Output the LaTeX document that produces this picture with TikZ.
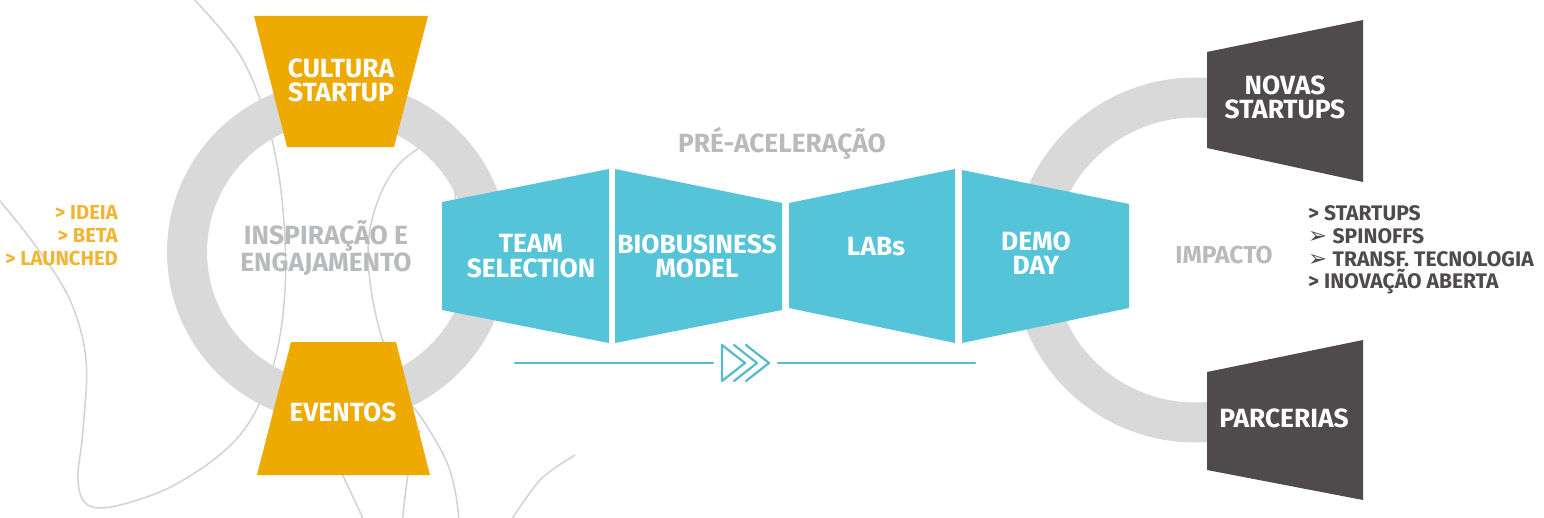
\documentclass[tikz,border=0pt]{standalone}
\usepackage{fontspec}
\setmainfont{Fira Sans}
\newfontfamily\symfont{DejaVu Sans}

\definecolor{ringgray}{HTML}{D9D9D9}
\definecolor{linegray}{HTML}{D2D2D2}
\definecolor{labelgray}{HTML}{B8BABC}
\definecolor{boxorange}{HTML}{EEAA00}
\definecolor{listorange}{HTML}{F2B533}
\definecolor{boxblue}{HTML}{55C4D9}
\definecolor{flowblue}{HTML}{5AB9CB}
\definecolor{boxdark}{HTML}{4F4A4B}

\tikzset{
  thinline/.style={draw=linegray, line width=0.03cm},
  ring/.style={draw=ringgray, line width=0.8cm},
  orangebox/.style={fill=boxorange},
  bluebox/.style={fill=boxblue},
  darkbox/.style={fill=boxdark},
  boxtext/.style={text=white, align=center, font=\bfseries\fontsize{15}{13.8}\selectfont},
  graytext/.style={text=labelgray, align=center, font=\bfseries\fontsize{15}{13.5}\selectfont},
  flowline/.style={draw=flowblue, line width=0.045cm, line cap=round, line join=round}
}
\newcommand{\bullarrow}{{\symfont\fontsize{13}{13}\selectfont ➢}\hspace{3pt}}

\begin{document}
\begin{tikzpicture}[x=0.02cm, y=-0.02cm]
  \useasboundingbox (0,0) rectangle (1544,517);
  \clip (0,0) rectangle (1544,517);

  % background lines
  \draw[thinline] plot[smooth, tension=0.6] coordinates {(190,-5) (240,55) (268,125) (282,200) (285,290)
    (272,370) (240,435) (180,482) (120,505) (88,505) (78,480) (83,430) (86,360) (70,300) (35,245) (-5,195)};
  \draw[thinline] plot[smooth, tension=0.6] coordinates {(440,135) (400,163) (377,203) (368,253) (377,320)
    (400,387) (423,420) (445,458) (455,490) (460,530)};
  \draw[thinline] plot[smooth] coordinates {(445,145) (452,170) (457,213) (458,240)};
  \draw[thinline] plot[smooth] coordinates {(300,400) (330,450) (345,480) (366,525)};
  \draw[thinline] plot[smooth] coordinates {(420,430) (408,475) (402,525)};
  \draw[thinline] plot[smooth] coordinates {(508,525) (540,480) (575,455)};

  % rings
  \draw[ring] (338,252) circle (3.02cm);
  \draw[ring] (1223.2,100) arc[start angle=80, end angle=280, radius=3.25cm];

  % inspiracao
  \fill[orangebox] (254,16) -- (428,16) -- (394,147) -- (287,147) -- cycle;
  \fill[orangebox] (291,342) -- (396,342) -- (430,475) -- (257,475) -- cycle;
  \node[boxtext] (cultura) at (341,80) {CULTURA\\STARTUP};
  \node[boxtext] (eventos) at (343,412) {EVENTOS};
  \node[graytext] (inspiracao) at (326,248) {INSPIRAÇÃO E\\ENGAJAMENTO};
  \node[text=listorange, align=right, anchor=east, font=\bfseries\fontsize{11.5}{13}\selectfont]
    (estagios) at (124,236) {> IDEIA\\> BETA\\> LAUNCHED};

  % pre-aceleracao
  \fill[bluebox] (442,202) -- (609,169) -- (609,343) -- (442,310) -- cycle;
  \fill[bluebox] (615,169) -- (782,203) -- (782,310) -- (615,343) -- cycle;
  \fill[bluebox] (789,203) -- (955,169) -- (955,343) -- (789,308) -- cycle;
  \fill[bluebox] (962,170) -- (1129,204) -- (1129,308) -- (962,343) -- cycle;
  \node[boxtext] (team) at (531,256) {TEAM\\SELECTION};
  \node[boxtext] (bio) at (697,256) {BIOBUSINESS\\MODEL};
  \node[boxtext] (labs) at (876,247) {LABs};
  \node[boxtext] (demo) at (1036,253) {DEMO\\DAY};
  \node[graytext] (pre) at (782,143) {PRÉ-ACELERAÇÃO};

  % flow arrow
  \coordinate (flowa) at (515,363);
  \coordinate (flowb) at (713,363);
  \coordinate (flowc) at (778,363);
  \coordinate (flowd) at (975,363);
  \draw[flowline] (flowa) -- (flowb);
  \draw[flowline] (flowc) -- (flowd);
  \draw[flowline] (722,345) -- (745,363) -- (722,381) -- cycle;
  \foreach \dx in {12,24}
    \draw[flowline] (722+\dx,345) -- (745+\dx,363) -- (722+\dx,381);

  % impacto
  \fill[darkbox] (1207,52) -- (1363,20) -- (1363,182) -- (1207,148) -- cycle;
  \fill[darkbox] (1207,372) -- (1363,340) -- (1363,500) -- (1207,470) -- cycle;
  \node[boxtext] (novas) at (1285,97) {NOVAS\\STARTUPS};
  \node[boxtext] (parcerias) at (1284,418) {PARCERIAS};
  \node[graytext, font=\bfseries\fontsize{14}{13.5}\selectfont] (impacto) at (1224,255) {IMPACTO};
  \node[text=boxdark, align=left, anchor=west, font=\bfseries\fontsize{12}{13}\selectfont]
    (resultados) at (1302,250) {> STARTUPS\\\bullarrow SPINOFFS\\
      \bullarrow TRANSF. TECNOLOGIA\\> INOVAÇÃO ABERTA};
\end{tikzpicture}
\end{document}
